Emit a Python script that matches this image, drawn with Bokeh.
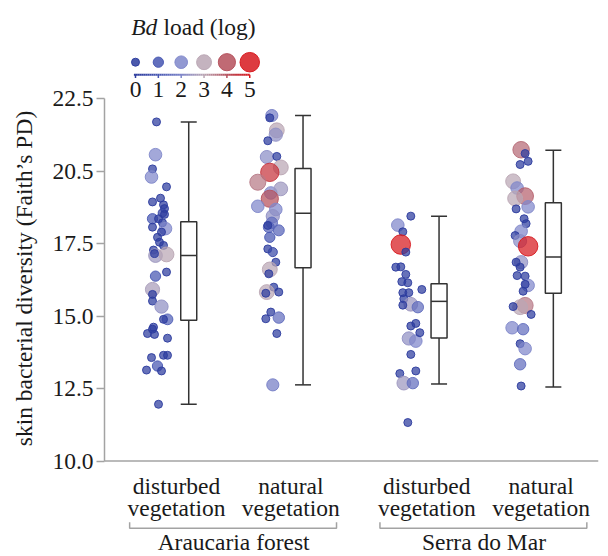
import numpy as np
import pandas as pd
from bokeh.plotting import figure
from bokeh.models import Range1d, FixedTicker, Span, LinearColorMapper, ColumnDataSource
from bokeh.core.properties import value
from bokeh.embed import file_html
from bokeh.resources import INLINE

# ---------------- data ----------------
group_names = ["Araucaria forest", "Serra do Mar"]
cat_labels = ["disturbed\nvegetation", "natural\nvegetation",
              "disturbed\nvegetation", "natural\nvegetation"]
cat_group = [0, 0, 1, 1]

# Faith's PD per frog, Bd load (log), horizontal jitter (px)
af_dist_pd = [21.70, 20.57, 20.08, 19.80, 19.46, 19.07, 18.94, 18.84, 18.71, 18.56,
              18.51, 18.36, 18.36, 18.22, 18.07, 18.02, 17.90, 17.72, 17.55, 17.44,
              17.28, 17.09, 17.13, 17.16, 16.52, 16.38, 15.92, 15.75, 15.52, 15.33,
              14.89, 14.89, 14.62, 14.55, 14.40, 14.37, 14.24, 13.57, 13.65, 13.65,
              13.28, 13.14, 13.11, 11.96]
af_dist_bd = [0, 2, 0, 2, 0, 0, 0, 0, 0, 0.3,
              0, 1, 0, 0, 0, 2, 0, 0, 0, 0,
              0, 2.5, 3, 0, 0, 1, 2.7, 0, 0, 2.3,
              1.2, 0, 0, 0, 0, 0, 0, 0, 0, 0,
              1, 0, 0, 0]
af_dist_jit = [-20, -21, -24, -25, -10, -16, -24, -13, -12, -14,
               -12, -24, -18, -14, -24, -11, -15, -19, -17, -13,
               -23, -21, -10, -22, -10, -21, -24, -24, -24, -15,
               -9, -13, -23, -24, -29, -22, -9, -25, -13, -9,
               -19, -30, -15, -18]

af_nat_pd = [21.92, 21.84, 21.41, 21.26, 21.05, 20.49, 20.51, 20.13, 19.96, 19.62,
             19.25, 19.39, 19.05, 18.79, 18.68, 18.45, 18.22, 18.07, 17.96, 18.13,
             17.72, 17.32, 17.21, 16.86, 16.61, 16.46, 16.00, 15.83, 15.83, 15.79,
             15.14, 14.95, 14.91, 14.40, 12.63]
af_nat_bd = [1.8, 0, 3, 2.3, 0, 2.2, 0, 3, 4.5, 3.5,
             2, 2.5, 4, 2, 2, 2.3, 1.5, 1.3, 1.3, 0,
             1, 0, 0.5, 0, 3, 0, 0, 3, 0, 0,
             0, 1.5, 0, 0, 1.8]
af_nat_jit = [-19, -21, -14, -15, -23, -24, -14, -10, -21, -33,
              -20, -10, -21, -33, -15, -18, -19, -22, -12, -23,
              -21, -23, -18, -15, -21, -22, -17, -24, -12, -25,
              -20, -12, -25, -14, -18]

sm_dist_pd = [18.45, 18.14, 17.91, 17.47, 17.21, 16.69, 16.70, 16.44, 16.19, 16.15,
              15.92, 15.81, 15.81, 15.60, 15.41, 15.31, 15.38, 14.66, 14.75, 14.23,
              14.14, 14.43, 13.68, 13.02, 13.11, 12.69, 12.69, 11.33]
sm_dist_bd = [0, 2, 0, 5, 0, 0, 0, 0, 0, 0,
              0, 0, 0, 0, 2.5, 1.5, 0, 0, 0, 2.3,
              2, 0, 0, 0, 0, 2.5, 1.5, 0]
sm_dist_jit = [-16, -29, -24, -26, -21, -31, -26, -21, -25, -19,
               -5, -24, -18, -23, -16, -9, -24, -16, -11, -18,
               -11, -7, -16, -27, -11, -23, -14, -19]

sm_nat_pd = [20.74, 20.61, 20.34, 20.23, 19.65, 19.42, 19.14, 19.06, 18.77, 18.70,
             18.36, 18.19, 17.93, 17.78, 17.59, 17.41, 16.86, 16.86, 16.69, 16.40,
             16.38, 16.06, 16.10, 15.86, 15.37, 15.31, 15.33, 15.06, 14.60, 14.55,
             14.05, 13.88, 13.34, 12.59]
sm_nat_bd = [3.7, 0, 0, 0, 3, 2, 3.8, 3, 2, 0,
             0, 0, 2, 0, 2.2, 5, 2.3, 0, 0, 0,
             0, 2, 0, 0, 3.5, 3, 0, 0, 2, 1.5,
             0, 2, 1.5, 0]
sm_nat_jit = [-20, -16, -13, -21, -28, -24, -16, -26, -13, -25,
              -17, -15, -20, -26, -21, -13, -20, -25, -21, -24,
              -16, -13, -16, -18, -16, -21, -28, -10, -29, -18,
              -21, -16, -21, -20]

# box plot statistics
box_low = [11.96, 12.63, 12.66, 12.56]
box_q1 = [14.86, 16.67, 14.25, 15.79]
box_med = [17.09, 18.55, 15.51, 17.04]
box_q3 = [18.26, 20.09, 16.12, 18.91]
box_high = [21.70, 21.92, 18.45, 20.72]

y_ticks = [10, 12.5, 15, 17.5, 20, 22.5]
y_tick_labels = ["10.0", "12.5", "15.0", "17.5", "20.5", "22.5"]
legend_loads = [0, 1, 2, 3, 4, 5]

# ---------------- layout helpers ----------------
W, H = 608, 556
LEFT, RIGHT = 104, 10
PX = 114.3                       # pixels per x unit
cat_x = np.array([1.0, 2.0, 3.19, 4.19])
x_start = 1 - (176 - LEFT) / PX
x_end = x_start + (W - LEFT - RIGHT) / PX
PY = 28.99                       # pixels per y unit
Y10 = 460.6                      # pixel row of y = 10
y_start = 10 - (H - Y10) / PY
y_end = 10 + Y10 / PY
TDY = 8                          # text glyph baseline correction (px)

def xat(px):
    return x_start + (px - LEFT) / PX

def yat(py):
    return 10 - (py - Y10) / PY

def ytext(py):
    return yat(py - TDY)

SERIF = "Liberation Serif"
FONT = value(SERIF)
FS = "23.5px"
TXT = "#1a1a1a"
GRAY = "#a3a3a3"
BOX = "#333333"

# colour scale for Bd load
stops = ["#2c3c9e", "#4656b2", "#7f87ca", "#baa6b4", "#b5505c", "#d7191f"]
def _rgb(h):
    return np.array([int(h[i:i + 2], 16) for i in (1, 3, 5)], dtype=float)
stop_rgb = np.array([_rgb(c) for c in stops])
palette = []
for v in np.linspace(0, 5, 256):
    r = [np.interp(v, np.arange(6), stop_rgb[:, k]) for k in range(3)]
    palette.append("#%02x%02x%02x" % tuple(int(round(c)) for c in r))
mapper = LinearColorMapper(palette=palette, low=0, high=5)

def dot_size(load):
    return 8 + 2.3 * np.asarray(load, dtype=float)

frames = []
for i, (pdv, bd, jit) in enumerate([(af_dist_pd, af_dist_bd, af_dist_jit),
                                     (af_nat_pd, af_nat_bd, af_nat_jit),
                                     (sm_dist_pd, sm_dist_bd, sm_dist_jit),
                                     (sm_nat_pd, sm_nat_bd, sm_nat_jit)]):
    frames.append(pd.DataFrame({
        "x": cat_x[i] + np.array(jit) / PX,
        "pd": pdv,
        "load": bd,
        "size": dot_size(bd),
    }))
pts = pd.concat(frames, ignore_index=True)

# ---------------- figure ----------------
p = figure(width=W, height=H, output_backend="svg", toolbar_location=None,
           x_range=Range1d(x_start, x_end), y_range=Range1d(y_start, y_end),
           x_axis_location=None, min_border_left=LEFT, min_border_right=RIGHT,
           min_border_top=0, min_border_bottom=0)
p.outline_line_color = None
p.xgrid.visible = False
p.ygrid.visible = False

ax = p.yaxis[0]
ax.bounds = (10, 22.5)
ax.ticker = FixedTicker(ticks=y_ticks)
ax.major_label_overrides = {t: l for t, l in zip(y_ticks, y_tick_labels)}
ax.minor_tick_line_color = None
ax.major_tick_in = 0
ax.major_tick_out = 8
ax.major_label_standoff = 3
ax.axis_line_color = GRAY
ax.axis_line_width = 1.5
ax.major_tick_line_color = GRAY
ax.major_tick_line_width = 1.5
ax.major_label_text_font = SERIF
ax.major_label_text_font_size = FS
ax.major_label_text_color = TXT
ax.axis_label = "skin bacterial diversity (Faith\u2019s PD)"
ax.axis_label_text_font = SERIF
ax.axis_label_text_font_size = FS
ax.axis_label_text_font_style = "normal"
ax.axis_label_text_color = TXT
ax.axis_label_standoff = 12

p.add_layout(Span(location=10, dimension="width", line_color=GRAY, line_width=1.5))

# box plots
bx = cat_x + 0.107
bw = 0.14
p.segment(bx, box_low, bx, box_q1, line_color=BOX, line_width=1.5)
p.segment(bx, box_q3, bx, box_high, line_color=BOX, line_width=1.5)
p.segment(bx - bw / 2, box_low, bx + bw / 2, box_low, line_color=BOX, line_width=1.5)
p.segment(bx - bw / 2, box_high, bx + bw / 2, box_high, line_color=BOX, line_width=1.5)
p.vbar(x=bx, width=bw, bottom=box_q1, top=box_q3, fill_color="white",
       line_color=BOX, line_width=1.5)
p.segment(bx - bw / 2, box_med, bx + bw / 2, box_med, line_color=BOX, line_width=1.5)

# points
src = ColumnDataSource(pts)
p.scatter("x", "pd", source=src, marker="circle", size="size",
          fill_color={"field": "load", "transform": mapper}, fill_alpha=0.72,
          line_color={"field": "load", "transform": mapper}, line_alpha=0.9,
          line_width=1)

# category labels and group brackets
line1 = [c.split("\n")[0] for c in cat_labels]
line2 = [c.split("\n")[1] for c in cat_labels]
p.text(x=cat_x, y=[ytext(493.3)] * 4, text=line1, text_font=FONT, text_font_size=FS,
       text_align="center", text_baseline="alphabetic", text_color=TXT)
p.text(x=cat_x, y=[ytext(515.7)] * 4, text=line2, text_font=FONT, text_font_size=FS,
       text_align="center", text_baseline="alphabetic", text_color=TXT)
for g in range(len(group_names)):
    idx = [i for i, cg in enumerate(cat_group) if cg == g]
    left = cat_x[idx[0]] - 0.41
    right = cat_x[idx[-1]] + 0.40
    p.line([left, left, right, right],
           [yat(521.7), yat(527.7), yat(527.7), yat(521.7)],
           line_color=GRAY, line_width=1.5)
    p.text(x=[(cat_x[idx[0]] + cat_x[idx[-1]]) / 2], y=[ytext(549.5)], text=[group_names[g]],
           text_font=FONT, text_font_size=FS,
           text_align="center", text_baseline="alphabetic", text_color=TXT)

# legend: Bd load (log)
lx0 = xat(135)
lstep = 22.85 / PX
lx = lx0 + lstep * np.array(legend_loads, dtype=float)
leg = ColumnDataSource(dict(x=lx, y=[yat(61.7)] * 6, load=legend_loads,
                            size=dot_size(legend_loads)))
p.scatter("x", "y", source=leg, marker="circle", size="size",
          fill_color={"field": "load", "transform": mapper}, fill_alpha=0.85,
          line_color={"field": "load", "transform": mapper}, line_alpha=0.95,
          line_width=1)
gl = np.linspace(-0.07, 5.0, 60)
gsrc = ColumnDataSource(dict(x0=lx0 + lstep * gl[:-1], x1=lx0 + lstep * gl[1:],
                             y0=[yat(74.3)] * 59, y1=[yat(74.3)] * 59,
                             load=(gl[:-1] + gl[1:]) / 2))
p.segment("x0", "y0", "x1", "y1", source=gsrc, line_width=2,
          line_color={"field": "load", "transform": mapper})
tsrc = ColumnDataSource(dict(x=lx, y0=[yat(74.3)] * 6, y1=[yat(77.5)] * 6,
                             load=legend_loads))
p.segment("x", "y0", "x", "y1", source=tsrc, line_width=1.5,
          line_color={"field": "load", "transform": mapper})
p.text(x=lx, y=[ytext(96.7)] * 6, text=[str(v) for v in legend_loads],
       text_font=FONT, text_font_size=FS, text_align="center",
       text_baseline="alphabetic", text_color=TXT)
p.text(x=[xat(130.7)], y=[ytext(34.3)], text=["Bd"], text_font=FONT,
       text_font_size=FS, text_font_style="italic", text_align="left",
       text_baseline="alphabetic", text_color=TXT)
p.text(x=[xat(163)], y=[ytext(34.3)], text=["load (log)"], text_font=FONT,
       text_font_size=FS, text_align="left", text_baseline="alphabetic",
       text_color=TXT)

open("out.html", "w").write(file_html(p, INLINE))
